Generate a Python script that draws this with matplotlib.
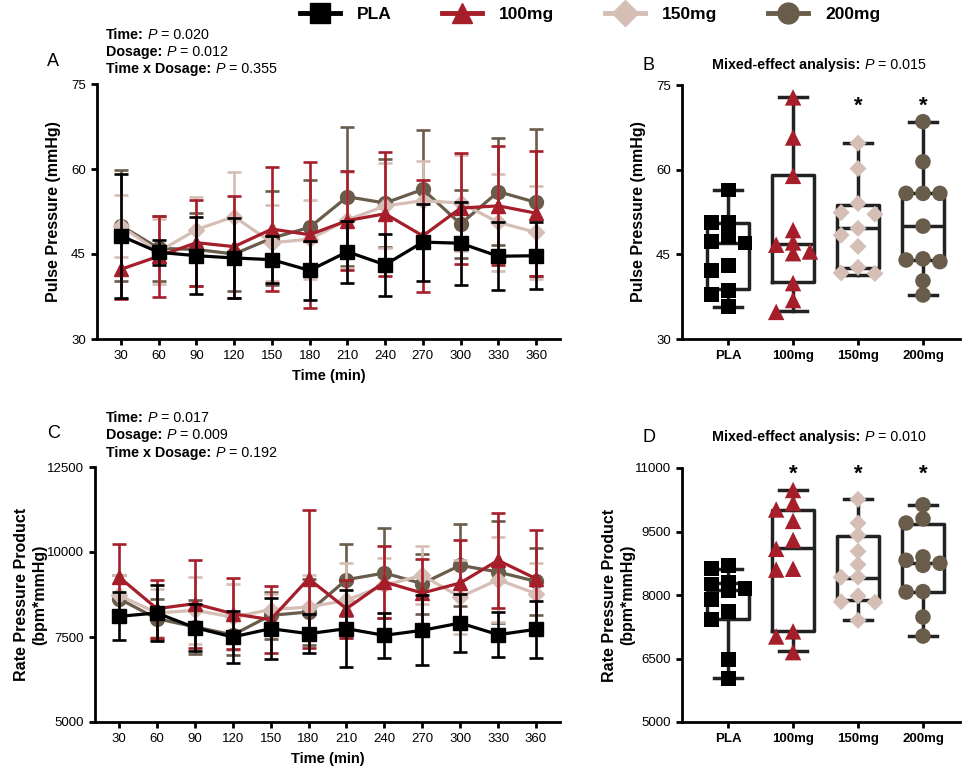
import matplotlib
matplotlib.use('Agg')
import matplotlib.pyplot as plt
from matplotlib.lines import Line2D

plt.rcParams['font.family'] = ['Liberation Sans', 'DejaVu Sans']

groups = ['PLA', '100mg', '150mg', '200mg']
colors = ['#000000', '#A51E2A', '#D4BEB5', '#6A5C4A']
markers = ['s', '^', 'D', 'o']
times = [30, 60, 90, 120, 150, 180, 210, 240, 270, 300, 330, 360]

# pulse pressure over time (mean, SD)
pp_pla = [48.2, 45.3, 44.7, 44.3, 44.0, 42.1, 45.4, 43.1, 47.1, 46.9, 44.6, 44.7]
pp_100 = [42.3, 44.6, 47.0, 46.3, 49.4, 48.4, 50.9, 52.1, 48.2, 53.1, 53.5, 52.2]
pp_150 = [49.9, 45.4, 49.3, 51.6, 47.0, 47.6, 51.0, 53.5, 54.4, 54.0, 50.6, 48.8]
pp_200 = [50.0, 46.0, 45.8, 45.0, 47.8, 49.7, 55.1, 54.0, 56.4, 50.3, 56.0, 54.1]
pp_pla_sd = [11.0, 2.2, 6.8, 7.1, 4.1, 5.2, 5.5, 5.5, 6.8, 7.3, 6.0, 5.9]
pp_100_sd = [5.2, 7.1, 7.6, 9.0, 10.9, 12.9, 8.8, 10.9, 9.9, 9.8, 10.5, 11.0]
pp_150_sd = [5.5, 5.7, 5.7, 7.8, 6.7, 7.0, 8.5, 7.5, 7.0, 8.5, 8.6, 8.2]
pp_200_sd = [9.8, 5.7, 6.5, 6.5, 8.3, 8.3, 12.3, 7.7, 10.4, 6.0, 9.4, 12.9]

# rate pressure product over time (mean, SD)
rpp_pla = [8108, 8206, 7775, 7500, 7745, 7598, 7745, 7549, 7696, 7912, 7569, 7725]
rpp_100 = [9265, 8333, 8480, 8186, 8010, 9216, 8333, 9118, 8794, 9088, 9755, 9216]
rpp_150 = [8725, 8206, 8284, 8088, 8304, 8382, 8578, 9020, 9314, 8676, 9186, 8775]
rpp_200 = [8627, 8039, 7800, 7560, 8137, 8235, 9186, 9382, 9069, 9608, 9412, 9137]
rpp_pla_sd = [706, 824, 687, 755, 902, 569, 1127, 667, 1029, 853, 657, 833]
rpp_100_sd = [960, 853, 1295, 1049, 981, 2029, 853, 1059, 1000, 1255, 1402, 1421]
rpp_150_sd = [600, 716, 981, 961, 450, 932, 1098, 814, 853, 1078, 1245, 900]
rpp_200_sd = [700, 588, 790, 600, 687, 980, 1059, 1334, 882, 1206, 1500, 981]

# individual values (B: pulse pressure, D: rate pressure product)
ppi_pla = [56.4, 50.7, 50.7, 48.1, 47.2, 47.0, 43.1, 42.2, 38.6, 37.9, 35.7]
ppi_100 = [72.8, 65.7, 58.9, 49.3, 47.1, 46.7, 45.5, 45.2, 39.9, 36.9, 34.8]
ppi_150 = [64.7, 60.2, 54.0, 52.4, 52.1, 49.6, 48.4, 46.4, 42.7, 41.7, 41.6]
ppi_200 = [68.5, 61.4, 55.8, 55.8, 55.8, 50.0, 44.2, 44.0, 43.7, 40.3, 37.8]
rppi_pla = [8700, 8620, 8300, 8260, 8150, 8100, 7900, 7620, 7420, 6480, 6020]
rppi_100 = [10480, 10170, 10020, 9750, 9300, 9090, 8620, 8600, 7140, 7020, 6650]
rppi_150 = [10260, 9700, 9410, 9030, 8720, 8420, 8420, 7980, 7840, 7830, 7400]
rppi_200 = [10130, 9800, 9700, 8900, 8820, 8750, 8700, 8080, 8070, 7480, 7030]

# box stats: (low whisker, q1, median, q3, high whisker)
pp_box = [(35.7, 38.8, 47.0, 50.5, 56.4), (34.9, 40.1, 46.8, 59.1, 72.8),
          (41.4, 42.6, 49.7, 53.8, 64.7), (37.8, 44.0, 50.0, 55.8, 68.5)]
rpp_box = [(6040, 7440, 8110, 8280, 8620), (6669, 7142, 9118, 10000, 10472),
           (7402, 7874, 8409, 9386, 10260), (7031, 8071, 8756, 9669, 10134)]

W, H = 969, 773
fig = plt.figure(figsize=(W / 100, H / 100), dpi=100)
renderer = fig.canvas.get_renderer()


def rect(l, t, r, b):
    return [l / W, 1 - b / H, (r - l) / W, (b - t) / H]


def style(ax):
    for s in ['top', 'right']:
        ax.spines[s].set_visible(False)
    for s in ['left', 'bottom']:
        ax.spines[s].set_linewidth(2.0)
    ax.tick_params(width=2.0, length=4.5, labelsize=9.5)


def swarm(vals, ux, uy, size_px=12, step=0.26):
    # greedy, deterministic side-by-side placement of close values
    placed, offs = [], []
    for v in vals:
        best, best_hits = 0, None
        for k in [0, -1, 1]:
            x = k * step
            hits = sum(1 for a, b in placed
                       if abs(x - a) * ux < size_px and abs(v - b) * uy < size_px)
            if best_hits is None or hits < best_hits:
                best, best_hits = x, hits
            if hits == 0:
                break
        placed.append((best, v))
        offs.append(best)
    return offs


def line_panel(ax, means, sds, ylim, yticks, ylabel, pad):
    style(ax)
    for i in [3, 2, 1, 0]:
        ax.errorbar(times, means[i], yerr=sds[i], color=colors[i], marker=markers[i],
                    ms=10 if markers[i] != 'D' else 8, lw=2.3, elinewidth=1.9,
                    capsize=5, capthick=1.9, zorder=3 + (3 - i))
    ax.set_xlim(11, 379)
    ax.set_ylim(*ylim)
    ax.set_xticks(times)
    ax.set_yticks(yticks)
    ax.set_xlabel('Time (min)', fontsize=10.5, fontweight='bold', labelpad=5)
    ax.set_ylabel(ylabel, fontsize=11.5, fontweight='bold', labelpad=pad)


def box_panel(ax, vals, boxes, ylim, yticks, ylabel, stars, star_y, pad):
    style(ax)
    ax.set_xlim(-0.71, 3.57)
    ax.set_ylim(*ylim)
    uy = 254 / (ylim[1] - ylim[0])
    stats = [dict(whislo=b[0], q1=b[1], med=b[2], q3=b[3], whishi=b[4], fliers=[])
             for b in boxes]
    lp = dict(color='#222222', linewidth=2.5)
    ax.bxp(stats, positions=range(4), widths=0.64, capwidths=0.42, showfliers=False,
           boxprops=lp, whiskerprops=lp, capprops=lp, medianprops=lp)
    sizes = {'s': 115, '^': 140, 'D': 75, 'o': 125}
    for i, v in enumerate(vals):
        offs = swarm(v, 65, uy)
        ax.scatter([i + o for o in offs], v, marker=markers[i], s=sizes[markers[i]],
                   color=colors[i], edgecolors='none', zorder=4)
    for i in stars:
        ax.text(i, star_y, '*', ha='center', va='center', fontsize=16, fontweight='bold')
    ax.set_xticks(range(4))
    ax.set_xticklabels(groups, fontsize=9.5, fontweight='bold')
    ax.set_yticks(yticks)
    ax.set_ylabel(ylabel, fontsize=11.5, fontweight='bold', labelpad=pad)


axA = fig.add_axes(rect(97, 84, 560, 339))
line_panel(axA, [pp_pla, pp_100, pp_150, pp_200], [pp_pla_sd, pp_100_sd, pp_150_sd, pp_200_sd],
           (30, 75), [30, 45, 60, 75], 'Pulse Pressure (mmHg)', 7)
axC = fig.add_axes(rect(95, 467, 560, 722))
line_panel(axC, [rpp_pla, rpp_100, rpp_150, rpp_200], [rpp_pla_sd, rpp_100_sd, rpp_150_sd, rpp_200_sd],
           (5000, 12500), [5000, 7500, 10000, 12500], 'Rate Pressure Product\n(bpm*mmHg)', 0)
axB = fig.add_axes(rect(682, 85, 960, 339))
box_panel(axB, [ppi_pla, ppi_100, ppi_150, ppi_200], pp_box, (30, 75), [30, 45, 60, 75],
          'Pulse Pressure (mmHg)', [2, 3], 71.3, 7)
axD = fig.add_axes(rect(682, 468, 960, 722))
box_panel(axD, [rppi_pla, rppi_100, rppi_150, rppi_200], rpp_box, (5000, 11000),
          [5000, 6500, 8000, 9500, 11000], 'Rate Pressure Product\n(bpm*mmHg)', [1, 2, 3], 10860, 0)

BOLD = dict(fontweight='bold')
ITAL = dict(fontstyle='italic')
PLAIN = dict()


def rich(x, y, parts, size=10.3, center=False):
    # parts drawn one after another with a space-width gap between them
    gap = size * 0.28 * 100 / 72
    objs, cx = [], x
    for k, (s, kw) in enumerate(parts):
        if k > 0:
            cx += gap
        t = fig.text(cx / W, 1 - y / H, s, va='center', fontsize=size, **kw)
        cx += t.get_window_extent(renderer).width
        objs.append(t)
    if center:
        shift = (cx - x) / 2
        for t in objs:
            px, py = t.get_position()
            t.set_position((px - shift / W, py))


def stat_lines(x, y0, dy, ps):
    names = ['Time:', 'Dosage:', 'Time x Dosage:']
    for k, (n, p) in enumerate(zip(names, ps)):
        rich(x, y0 + k * dy, [(n, BOLD), ('P', ITAL), ('= ' + p, PLAIN)])


fig.text(47 / W, 1 - 62 / H, 'A', va='center', fontsize=13)
stat_lines(106, 35, 17, ['0.020', '0.012', '0.355'])
fig.text(47 / W, 1 - 433 / H, 'C', va='center', fontsize=13)
stat_lines(106, 418, 17.5, ['0.017', '0.009', '0.192'])
fig.text(642 / W, 1 - 65 / H, 'B', va='center', fontsize=13)
rich(819, 65, [('Mixed-effect analysis:', BOLD), ('P', ITAL), ('= 0.015', PLAIN)], center=True)
fig.text(642 / W, 1 - 438 / H, 'D', va='center', fontsize=13)
rich(819, 437, [('Mixed-effect analysis:', BOLD), ('P', ITAL), ('= 0.010', PLAIN)], center=True)

handles = [Line2D([], [], color=c, marker=m, lw=3.5, ms=15 if m != 'D' else 13)
           for c, m in zip(colors, markers)]
fig.legend(handles, groups, loc='center', bbox_to_anchor=(590 / W, 1 - 14 / H), ncol=4,
           frameon=False, handlelength=2.3, handletextpad=1.0, columnspacing=2.9,
           prop=dict(size=12.5, weight='bold'))

fig.savefig('out.png', dpi=100)
